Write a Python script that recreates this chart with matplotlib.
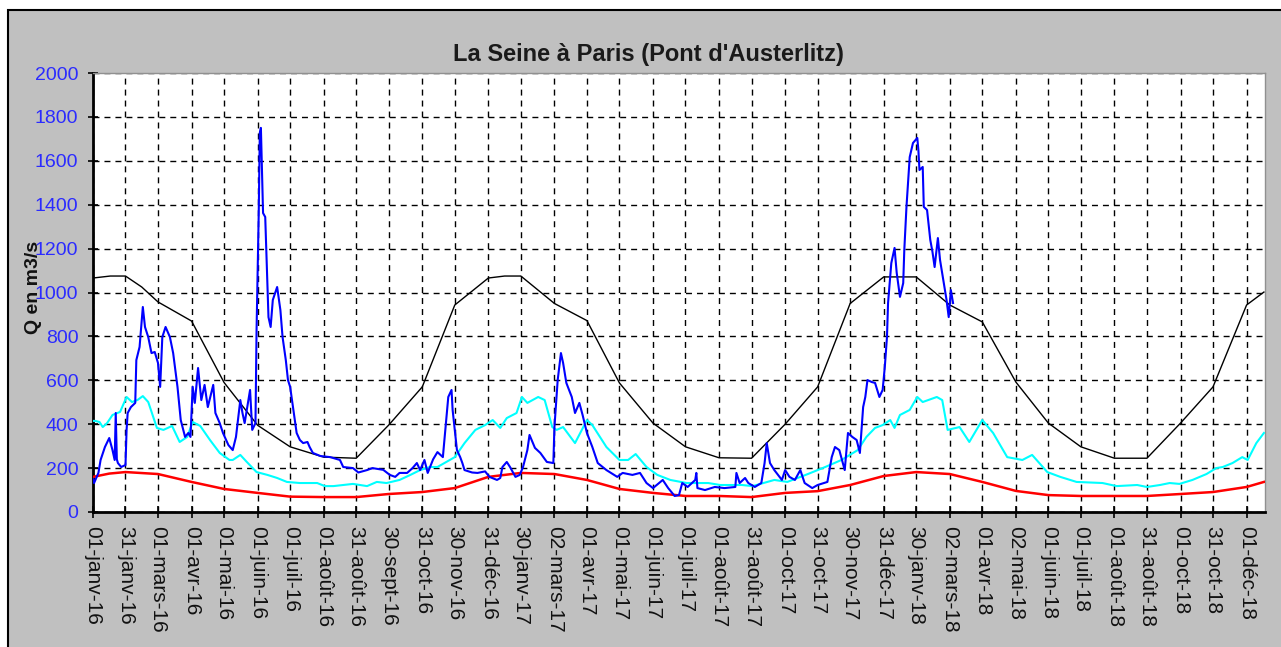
import numpy as np
import pandas as pd
import matplotlib
matplotlib.use("Agg")
import matplotlib.pyplot as plt
from matplotlib.patches import Rectangle

plt.rcParams['font.family'] = ['Liberation Sans', 'DejaVu Sans']

start = pd.Timestamp('2016-01-01')

# axis ticks (dates) and their labels
tick_dates = ['2016-01-01', '2016-01-31', '2016-03-01', '2016-04-01', '2016-05-01', '2016-06-01',
              '2016-07-01', '2016-08-01', '2016-08-31', '2016-09-30', '2016-10-31', '2016-11-30',
              '2016-12-31', '2017-01-30', '2017-03-02', '2017-04-01', '2017-05-01', '2017-06-01',
              '2017-07-01', '2017-08-01', '2017-08-31', '2017-10-01', '2017-10-31', '2017-11-30',
              '2017-12-31', '2018-01-30', '2018-03-02', '2018-04-01', '2018-05-02', '2018-06-01',
              '2018-07-01', '2018-08-01', '2018-08-31', '2018-10-01', '2018-10-31', '2018-12-01']
tick_labels = ['01-janv-16', '31-janv-16', '01-mars-16', '01-avr-16', '01-mai-16', '01-juin-16',
               '01-juil-16', '01-août-16', '31-août-16', '30-sept-16', '31-oct-16', '30-nov-16',
               '31-déc-16', '30-janv-17', '02-mars-17', '01-avr-17', '01-mai-17', '01-juin-17',
               '01-juil-17', '01-août-17', '31-août-17', '01-oct-17', '31-oct-17', '30-nov-17',
               '31-déc-17', '30-janv-18', '02-mars-18', '01-avr-18', '02-mai-18', '01-juin-18',
               '01-juil-18', '01-août-18', '31-août-18', '01-oct-18', '31-oct-18', '01-déc-18']

# daily discharge (days since 01-janv-16, m3/s)
q_days = [0, 1, 5, 7, 11, 15, 18, 20, 21, 22, 23, 26, 30, 31, 32, 35, 39, 40, 43, 46, 48, 51, 54, 57,
          60, 62, 64, 67, 71, 74, 78, 81, 85, 88, 90, 92, 94, 97, 100, 103, 106, 111, 113, 117, 120,
          125, 129, 132, 136, 138, 140, 143, 145, 147, 150, 151, 153, 154, 155, 157, 159, 162, 164,
          166, 170, 173, 175, 178, 180, 182, 185, 188, 191, 194, 198, 200, 203, 210, 219, 228, 231,
          240, 245, 253, 258, 268, 274, 279, 283, 290, 295, 299, 302, 306, 309, 314, 318, 323, 328,
          331, 332, 336, 339, 341, 343, 350, 355, 362, 366, 373, 376, 378, 382, 385, 390, 394, 397,
          401, 403, 408, 413, 419, 425, 426, 429, 432, 434, 437, 442, 445, 449, 452, 456, 461, 466,
          474, 484, 489, 498, 505, 511, 517, 526, 531, 537, 541, 544, 549, 556, 557, 558, 565, 574,
          583, 593, 594, 597, 602, 605, 611, 617, 620, 622, 625, 629, 636, 639, 643, 648, 653, 657,
          664, 669, 678, 682, 685, 689, 694, 697, 701, 705, 708, 711, 713, 715, 719, 722, 726, 729,
          731, 733, 734, 736, 737, 740, 742, 745, 748, 749, 751, 754, 757, 761, 762, 763, 766, 767,
          770, 773, 775, 777, 780, 782, 785, 788, 790, 792, 794]
q_vals = [150, 132, 178, 237, 296, 337, 282, 237, 451, 240, 223, 205, 214, 374, 451, 478, 497, 692,
          752, 934, 843, 797, 724, 729, 679, 570, 797, 843, 797, 724, 570, 419, 342, 360, 342, 570,
          497, 656, 510, 579, 478, 579, 451, 405, 360, 305, 282, 342, 510, 451, 405, 497, 556, 374,
          405, 829, 1362, 1727, 1750, 1362, 1344, 888, 843, 966, 1025, 920, 797, 692, 601, 570, 465,
          360, 328, 314, 319, 296, 269, 255, 250, 237, 205, 200, 180, 191, 200, 192, 169, 160, 178,
          178, 200, 223, 191, 237, 178, 240, 273, 250, 524, 556, 465, 282, 250, 223, 191, 180, 178,
          185, 160, 146, 155, 205, 228, 205, 160, 169, 205, 282, 351, 292, 269, 228, 223, 387, 601,
          724, 679, 588, 524, 451, 497, 442, 360, 296, 223, 191, 160, 178, 169, 178, 132, 109, 146,
          109, 73, 77, 132, 114, 146, 178, 109, 100, 114, 109, 114, 178, 132, 155, 132, 114, 132,
          223, 314, 223, 191, 146, 191, 160, 146, 191, 132, 109, 123, 137, 250, 296, 282, 191, 360,
          342, 328, 269, 478, 524, 601, 592, 588, 524, 556, 661, 797, 952, 1071, 1134, 1203, 1089,
          980, 1043, 1194, 1390, 1617, 1681, 1704, 1649, 1558, 1572, 1390, 1376, 1239, 1185, 1116,
          1248, 1148, 1057, 966, 888, 1011, 952]

# cyan series
c_days = [0, 2, 6, 9, 13, 18, 25, 31, 36, 41, 46, 51, 59, 65, 73, 80, 87, 92, 99, 108, 117, 126,
          129, 136, 142, 151, 161, 170, 179, 191, 207, 214, 222, 231, 240, 253, 262, 271, 283, 293,
          302, 311, 318, 334, 343, 353, 362, 369, 376, 382, 391, 396, 401, 411, 417, 424, 428, 434,
          445, 456, 461, 474, 486, 494, 501, 511, 521, 533, 548, 568, 579, 599, 609, 629, 641, 660,
          676, 691, 706, 714, 722, 729, 736, 740, 745, 754, 761, 766, 779, 784, 789, 800, 809, 821,
          831, 844, 858, 867, 881, 893, 908, 932, 945, 964, 973, 985, 994, 1003, 1015, 1028, 1037,
          1043, 1052, 1061, 1066, 1074, 1081]
c_vals = [415, 415, 410, 387, 405, 442, 456, 524, 501, 510, 528, 501, 383, 374, 392, 319, 342, 410,
          392, 328, 269, 237, 237, 260, 228, 182, 169, 155, 137, 132, 132, 118, 118, 123, 128, 118,
          137, 132, 146, 169, 191, 205, 205, 250, 314, 374, 396, 419, 383, 428, 451, 524, 497, 524,
          510, 387, 374, 387, 314, 419, 396, 296, 237, 237, 264, 205, 169, 146, 132, 132, 123, 123,
          118, 146, 137, 173, 205, 237, 282, 342, 383, 396, 419, 383, 442, 465, 524, 501, 524, 510,
          374, 387, 319, 419, 360, 250, 237, 260, 182, 160, 137, 132, 118, 123, 114, 123, 132, 128,
          146, 173, 200, 205, 223, 250, 237, 314, 360]

# black series
k_days = [0, 16, 30, 45, 60, 91, 121, 152, 182, 213, 243, 273, 304, 334, 365, 380, 395, 426, 456,
          486, 517, 547, 578, 608, 639, 669, 699, 730, 760, 791, 821, 852, 882, 912, 943, 973, 1004,
          1034, 1065, 1081]
k_vals = [1066, 1075, 1075, 1025, 957, 870, 590, 395, 297, 250, 245, 396, 570, 943, 1066, 1075,
          1075, 950, 872, 588, 405, 297, 247, 245, 400, 570, 950, 1071, 1071, 943, 866, 592, 405,
          297, 245, 245, 405, 570, 943, 1002]

# red series
r_days = [0, 15, 30, 60, 91, 121, 152, 182, 213, 243, 273, 304, 334, 365, 395, 426, 456, 486, 517,
          547, 578, 608, 639, 669, 699, 730, 760, 791, 821, 852, 882, 912, 943, 973, 1004, 1034,
          1065, 1081]
r_vals = [160, 175, 182, 173, 137, 105, 87, 70, 68, 68, 82, 91, 109, 160, 178, 173, 146, 105, 87,
          73, 73, 68, 87, 95, 123, 164, 182, 173, 137, 96, 77, 73, 73, 73, 82, 91, 114, 137]

W, H = 1281, 647
fig = plt.figure(figsize=(W / 100, H / 100), dpi=100, facecolor='white')
fig.patches.append(Rectangle((8 / W, -0.1), 1.2, 1 - 10 / H + 0.1, transform=fig.transFigure,
                             facecolor='#c0c0c0', edgecolor='black', linewidth=1.5, zorder=-10))

ax = fig.add_axes([93 / W, 1 - 512 / H, (1265 - 93) / W, (512 - 73) / H])
ax.set_zorder(2)
ax.set_facecolor('white')

ax.plot(k_days, k_vals, color='black', lw=1.0, zorder=3)
ax.plot(r_days, r_vals, color='#ff0000', lw=1.8, zorder=3)
ax.plot(c_days, c_vals, color='#00ffff', lw=1.5, zorder=3)
ax.plot(q_days, q_vals, color='#0000ff', lw=1.5, zorder=4)

tick_pos = [(pd.Timestamp(d) - start).days for d in tick_dates]
ax.set_xticks(tick_pos)
ax.set_xticklabels(tick_labels, rotation=270, fontsize=15, color='#111111', ha='center', va='top')
ax.set_yticks(np.arange(0, 2001, 200))
ax.tick_params(axis='y', labelsize=14, labelcolor='#2b2bff', direction='inout', length=7, width=1.2, pad=7)
ax.tick_params(axis='x', direction='inout', length=8, width=1.2, pad=6)

ax.set_xlim(0, 1082)
ax.set_ylim(0, 2000)

ax.grid(True, color='black', linestyle=(0, (4.3, 3.6)), linewidth=1.0)
ax.set_axisbelow(True)

for s in ['left', 'bottom']:
    ax.spines[s].set_linewidth(2)
    ax.spines[s].set_color('black')
for s in ['top', 'right']:
    ax.spines[s].set_linewidth(1)
    ax.spines[s].set_color('#909090')

fig.text(648 / W, 1 - 55 / H, "La Seine à Paris (Pont d'Austerlitz)", fontsize=17, fontweight='bold',
         ha='center', va='center', color='#1a1a1a')
fig.text(34 / W, 1 - 287 / H, 'Q en m3/s', fontsize=14, fontweight='bold', rotation=90,
         ha='center', va='center', color='#111111', zorder=5)

fig.savefig('out.png', dpi=100, facecolor=fig.get_facecolor())
